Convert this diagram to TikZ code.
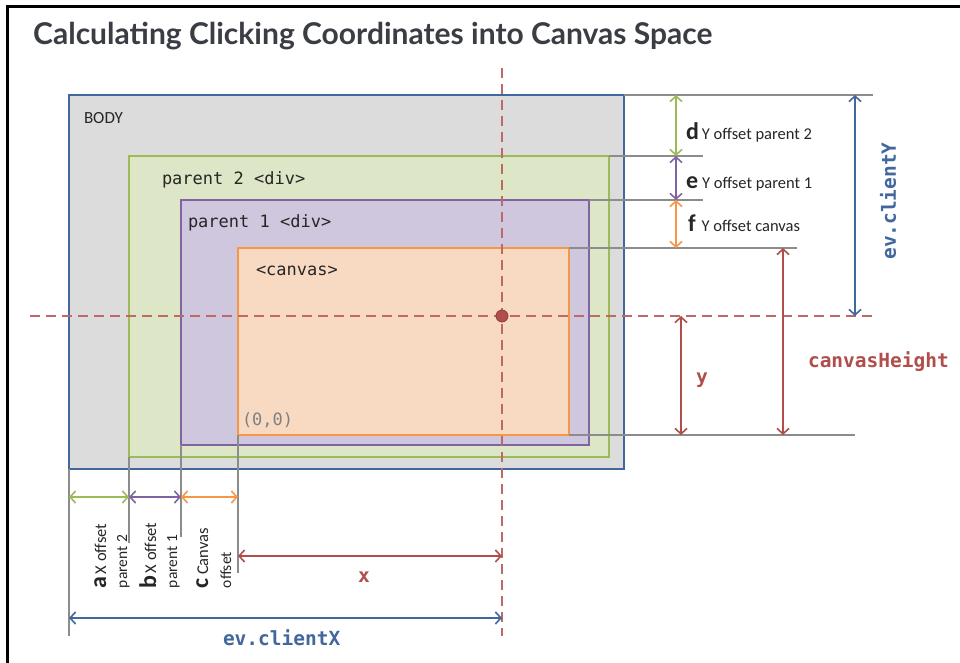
\documentclass[tikz,border=0pt]{standalone}
\usepackage{fontspec}
\setmainfont{Carlito}
\newfontfamily\titlefont{Lato}
\setmonofont{DejaVu Sans Mono}
\usetikzlibrary{arrows.meta}

\definecolor{bodyfill}{HTML}{DCDCDC}
\definecolor{bodyline}{HTML}{41679C}
\definecolor{ptwofill}{HTML}{DDE6C6}
\definecolor{ptwoline}{HTML}{9BBB59}
\definecolor{ponefill}{HTML}{CFC7DE}
\definecolor{poneline}{HTML}{8064A2}
\definecolor{cvfill}{HTML}{F8D9C1}
\definecolor{cvline}{HTML}{F79646}
\definecolor{redc}{HTML}{B04E4C}
\definecolor{grayl}{HTML}{8C8C8C}
\definecolor{bluec}{HTML}{41679C}
\definecolor{titlec}{HTML}{3A3E44}
\definecolor{textc}{HTML}{262626}

\newcommand{\dimletter}[1]{{\bfseries\fontsize{24}{24}\selectfont #1}}
\newcommand{\dimsmall}[1]{{\fontsize{16.5}{18}\selectfont #1}}

\begin{document}
\begin{tikzpicture}[x=1pt,y=-1pt,
  box/.style={draw, line width=2pt, inner sep=0pt, outer sep=0pt, anchor=north west},
  ext/.style={draw=grayl, line width=1.5pt},
  dim/.style={line width=1.6pt, {Straight Barb[length=5.5pt,width=12pt]}-{Straight Barb[length=5.5pt,width=12pt]}},
  cross/.style={draw=redc!85, line width=1.6pt, dash pattern=on 10pt off 6pt},
  lbl/.style={inner sep=0pt, outer sep=0pt, anchor=base west, text=textc},
  monolbl/.style={inner sep=0pt, outer sep=0pt, anchor=base west, text=textc, font=\ttfamily\fontsize{17}{19}\selectfont},
  biglbl/.style={inner sep=0pt, outer sep=0pt, text=#1, font=\ttfamily\bfseries\fontsize{19.5}{21}\selectfont}
]
\useasboundingbox (0,0) rectangle (960,663);
\fill[white] (0,0) rectangle (960,663);
\draw[line width=3pt] (960,7) -- (7,7) -- (7,663);

\node[inner sep=0pt, anchor=base west, text=titlec, font=\titlefont\bfseries\fontsize{30}{32}\selectfont] (title) at (33,45) {Calculating Clicking Coordinates into Canvas Space};

% boxes
\node[box, fill=bodyfill, draw=bodyline, minimum width=555pt, minimum height=374pt] (body) at (69,95) {};
\node[box, fill=ptwofill, draw=ptwoline, minimum width=480pt, minimum height=301pt] (ptwo) at (129,156) {};
\node[box, fill=ponefill, draw=poneline, minimum width=408pt, minimum height=245pt] (pone) at (181,200) {};
\node[box, fill=cvfill, draw=cvline, minimum width=331pt, minimum height=187pt] (cv) at (238,248) {};

\node[lbl, font=\fontsize{17}{19}\selectfont] (bodylbl) at (84,124) {BODY};
\node[monolbl] (ptwolbl) at (162,184) {parent 2 <div>};
\node[monolbl] (ponelbl) at (188,227) {parent 1 <div>};
\node[monolbl] (cvlbl) at (256,275) {<canvas>};
\node[monolbl, text=gray] (origin) at (242,425) {(0,0)};

% right extension lines
\coordinate (t0) at (873,95);
\coordinate (t1) at (703,156);
\coordinate (t2) at (703,200);
\coordinate (t3) at (797,248);
\coordinate (t4) at (855,435);
\draw[ext] (body.north east) -- (t0);
\draw[ext] (ptwo.north east) -- (t1);
\draw[ext] (pone.north east) -- (t2);
\draw[ext] (cv.north east) -- (t3);
\draw[ext] (cv.south east) -- (t4);

% bottom extension lines
\coordinate (b0) at (69,636);
\coordinate (b1) at (129,543);
\coordinate (b2) at (181,537);
\coordinate (b3) at (238,573);
\draw[ext] (body.south west) -- (b0);
\draw[ext] (ptwo.south west) -- (b1);
\draw[ext] (pone.south west) -- (b2);
\draw[ext] (cv.south west) -- (b3);

% crosshair
\coordinate (vtop) at (502,68);
\coordinate (vbot) at (502,636);
\coordinate (hl) at (30,316);
\coordinate (hr) at (873,316);
\coordinate (pt) at (502,316);
\draw[cross] (vtop) -- (vbot);
\draw[cross] (hl) -- (hr);
\fill[redc, draw=redc!80!black, line width=0.8pt] (pt) circle (6pt);

% right dimension arrows
\coordinate (d1) at (676,95);  \coordinate (d2) at (676,156);
\coordinate (e1) at (676,156); \coordinate (e2) at (676,200);
\coordinate (f1) at (676,200); \coordinate (f2) at (676,248);
\draw[dim, ptwoline] (d1) -- (d2);
\draw[dim, poneline] (e1) -- (e2);
\draw[dim, cvline] (f1) -- (f2);
\node[lbl] (dlbl) at (686,140) {\dimletter{d}\hspace{3pt}\dimsmall{Y offset parent 2}};
\node[lbl] (elbl) at (686,188) {\dimletter{e}\hspace{4pt}\dimsmall{Y offset parent 1}};
\node[lbl] (flbl) at (688,231) {\dimletter{f}\hspace{6pt}\dimsmall{Y offset canvas}};

\coordinate (cy1) at (855,95); \coordinate (cy2) at (855,316);
\draw[dim, bluec] (cy1) -- (cy2);
\node[biglbl=bluec, rotate=90] (cylbl) at (888,201) {ev.clientY};

\coordinate (ch1) at (783,248); \coordinate (ch2) at (783,435);
\draw[dim, redc] (ch1) -- (ch2);
\node[biglbl=redc, anchor=base west] (chlbl) at (808,367) {canvasHeight};

\coordinate (y1) at (681,316); \coordinate (y2) at (681,435);
\draw[dim, redc] (y1) -- (y2);
\node[biglbl=redc, anchor=base] (ylbl) at (702,383) {y};

% bottom dimension arrows
\coordinate (a1) at (69,497);  \coordinate (a2) at (129,497);
\coordinate (bb1) at (129,497); \coordinate (bb2) at (181,497);
\coordinate (c1) at (181,497); \coordinate (c2) at (238,497);
\draw[dim, ptwoline] (a1) -- (a2);
\draw[dim, poneline] (bb1) -- (bb2);
\draw[dim, cvline] (c1) -- (c2);

\node[lbl, rotate=90] (alblA) at (106,588) {\dimletter{a}\hspace{2pt}\dimsmall{X offset}};
\node[lbl, rotate=90, font=\fontsize{15.5}{17}\selectfont] (alblB) at (127,588) {parent 2};
\node[lbl, rotate=90] (blblA) at (156,588) {\dimletter{b}\hspace{2pt}\dimsmall{X offset}};
\node[lbl, rotate=90, font=\fontsize{15.5}{17}\selectfont] (blblB) at (177,588) {parent 1};
\node[lbl, rotate=90] (clblA) at (208,588) {\dimletter{c}\hspace{3pt}\dimsmall{Canvas}};
\node[lbl, rotate=90, font=\fontsize{15.5}{17}\selectfont] (clblB) at (231,588) {offset};

\coordinate (x1) at (238,556); \coordinate (x2) at (502,556);
\draw[dim, redc] (x1) -- (x2);
\node[biglbl=redc, anchor=base] (xlbl) at (364,582) {x};

\coordinate (cx1) at (69,618); \coordinate (cx2) at (502,618);
\draw[dim, bluec] (cx1) -- (cx2);
\node[biglbl=bluec, anchor=base west] (cxlbl) at (223,645) {ev.clientX};
\end{tikzpicture}
\end{document}
